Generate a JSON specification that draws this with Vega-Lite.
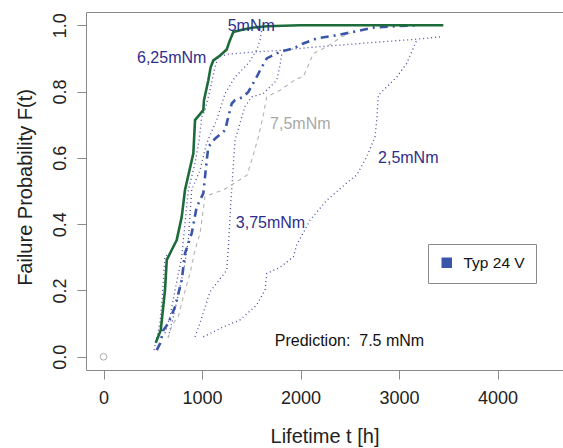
{
  "$schema": "https://vega.github.io/schema/vega-lite/v6.json",
  "width": 477,
  "height": 358,
  "autosize": {"type": "none"},
  "padding": {"left": 86, "top": 12, "right": 0, "bottom": 78},
  "background": "white",
  "config": {
    "view": {"stroke": "#8a8a8a", "strokeWidth": 1},
    "font": "Liberation Sans",
    "axis": {
      "domain": false, "grid": false, "tickColor": "#8a8a8a", "tickSize": 9,
      "labelFont": "Liberation Sans", "labelFontSize": 18, "labelColor": "#222222",
      "titleFont": "Liberation Sans", "titleFontSize": 20, "titleFontWeight": "normal", "titleColor": "#222222"
    },
    "legend": {
      "orient": "none", "legendX": 342, "legendY": 232, "strokeColor": "#8a8a8a", "fillColor": "white",
      "padding": 11, "cornerRadius": 0, "symbolType": "square", "symbolSize": 110,
      "symbolFillColor": "#3a56a8", "symbolStrokeWidth": 0, "labelFont": "Liberation Sans",
      "labelFontSize": 15.5, "labelColor": "#111111", "labelOffset": 9
    }
  },
  "datasets": {
    "curves": [
      {"s": "6,25mNm", "t": 624, "F": 0.071}, {"s": "6,25mNm", "t": 675, "F": 0.121}, {"s": "6,25mNm", "t": 726, "F": 0.201}, {"s": "6,25mNm", "t": 794, "F": 0.301}, {"s": "6,25mNm", "t": 827, "F": 0.403}, {"s": "6,25mNm", "t": 861, "F": 0.503}, {"s": "6,25mNm", "t": 929, "F": 0.584}, {"s": "6,25mNm", "t": 970, "F": 0.653}, {"s": "6,25mNm", "t": 997, "F": 0.723}, {"s": "6,25mNm", "t": 1030, "F": 0.744}, {"s": "6,25mNm", "t": 1081, "F": 0.804}, {"s": "6,25mNm", "t": 1132, "F": 0.874}, {"s": "6,25mNm", "t": 1165, "F": 0.904}, {"s": "6,25mNm", "t": 1267, "F": 0.913}, {"s": "6,25mNm", "t": 1555, "F": 0.920}, {"s": "6,25mNm", "t": 1825, "F": 0.925}, {"s": "6,25mNm", "t": 2096, "F": 0.933}, {"s": "6,25mNm", "t": 2604, "F": 0.945}, {"s": "6,25mNm", "t": 3180, "F": 0.958}, {"s": "6,25mNm", "t": 3416, "F": 0.965},
      {"s": "5mNm", "t": 658, "F": 0.060}, {"s": "5mNm", "t": 709, "F": 0.121}, {"s": "5mNm", "t": 777, "F": 0.211}, {"s": "5mNm", "t": 827, "F": 0.282}, {"s": "5mNm", "t": 861, "F": 0.352}, {"s": "5mNm", "t": 895, "F": 0.503}, {"s": "5mNm", "t": 980, "F": 0.563}, {"s": "5mNm", "t": 1041, "F": 0.638}, {"s": "5mNm", "t": 1081, "F": 0.668}, {"s": "5mNm", "t": 1149, "F": 0.714}, {"s": "5mNm", "t": 1234, "F": 0.794}, {"s": "5mNm", "t": 1335, "F": 0.844}, {"s": "5mNm", "t": 1470, "F": 0.885}, {"s": "5mNm", "t": 1555, "F": 0.925}, {"s": "5mNm", "t": 1589, "F": 0.955}, {"s": "5mNm", "t": 1606, "F": 0.985},
      {"s": "6,25mNm b", "t": 513, "F": 0.020}, {"s": "6,25mNm b", "t": 543, "F": 0.059}, {"s": "6,25mNm b", "t": 574, "F": 0.105}, {"s": "6,25mNm b", "t": 594, "F": 0.171}, {"s": "6,25mNm b", "t": 614, "F": 0.261}, {"s": "6,25mNm b", "t": 624, "F": 0.303}, {"s": "6,25mNm b", "t": 665, "F": 0.309}, {"s": "6,25mNm b", "t": 706, "F": 0.316},
      {"s": "3,75mNm", "t": 929, "F": 0.060}, {"s": "3,75mNm", "t": 980, "F": 0.102}, {"s": "3,75mNm", "t": 1081, "F": 0.196}, {"s": "3,75mNm", "t": 1251, "F": 0.261}, {"s": "3,75mNm", "t": 1267, "F": 0.328}, {"s": "3,75mNm", "t": 1294, "F": 0.472}, {"s": "3,75mNm", "t": 1318, "F": 0.578}, {"s": "3,75mNm", "t": 1335, "F": 0.653}, {"s": "3,75mNm", "t": 1434, "F": 0.754}, {"s": "3,75mNm", "t": 1505, "F": 0.784}, {"s": "3,75mNm", "t": 1622, "F": 0.794}, {"s": "3,75mNm", "t": 1758, "F": 0.834}, {"s": "3,75mNm", "t": 1792, "F": 0.879}, {"s": "3,75mNm", "t": 1812, "F": 0.919},
      {"s": "2,5mNm", "t": 1013, "F": 0.060}, {"s": "2,5mNm", "t": 1216, "F": 0.090}, {"s": "2,5mNm", "t": 1386, "F": 0.111}, {"s": "2,5mNm", "t": 1555, "F": 0.156}, {"s": "2,5mNm", "t": 1640, "F": 0.201}, {"s": "2,5mNm", "t": 1657, "F": 0.251}, {"s": "2,5mNm", "t": 1792, "F": 0.270}, {"s": "2,5mNm", "t": 1927, "F": 0.301}, {"s": "2,5mNm", "t": 1961, "F": 0.337}, {"s": "2,5mNm", "t": 2097, "F": 0.412}, {"s": "2,5mNm", "t": 2266, "F": 0.472}, {"s": "2,5mNm", "t": 2503, "F": 0.533}, {"s": "2,5mNm", "t": 2571, "F": 0.548}, {"s": "2,5mNm", "t": 2672, "F": 0.603}, {"s": "2,5mNm", "t": 2756, "F": 0.663}, {"s": "2,5mNm", "t": 2774, "F": 0.714}, {"s": "2,5mNm", "t": 2790, "F": 0.789}, {"s": "2,5mNm", "t": 2875, "F": 0.814}, {"s": "2,5mNm", "t": 2977, "F": 0.844}, {"s": "2,5mNm", "t": 3078, "F": 0.885}, {"s": "2,5mNm", "t": 3180, "F": 0.955},
      {"s": "7,5mNm", "t": 655, "F": 0.056}, {"s": "7,5mNm", "t": 695, "F": 0.096}, {"s": "7,5mNm", "t": 759, "F": 0.121}, {"s": "7,5mNm", "t": 810, "F": 0.181}, {"s": "7,5mNm", "t": 878, "F": 0.251}, {"s": "7,5mNm", "t": 929, "F": 0.322}, {"s": "7,5mNm", "t": 980, "F": 0.372}, {"s": "7,5mNm", "t": 1030, "F": 0.484}, {"s": "7,5mNm", "t": 1216, "F": 0.503}, {"s": "7,5mNm", "t": 1352, "F": 0.528}, {"s": "7,5mNm", "t": 1457, "F": 0.548}, {"s": "7,5mNm", "t": 1505, "F": 0.593}, {"s": "7,5mNm", "t": 1572, "F": 0.663}, {"s": "7,5mNm", "t": 1622, "F": 0.729}, {"s": "7,5mNm", "t": 1657, "F": 0.784}, {"s": "7,5mNm", "t": 1792, "F": 0.804}, {"s": "7,5mNm", "t": 1961, "F": 0.839}, {"s": "7,5mNm", "t": 2028, "F": 0.844}, {"s": "7,5mNm", "t": 2130, "F": 0.915}, {"s": "7,5mNm", "t": 2266, "F": 0.935}, {"s": "7,5mNm", "t": 2418, "F": 0.965}, {"s": "7,5mNm", "t": 2503, "F": 0.976},
      {"s": "Typ 24 V", "t": 540, "F": 0.020}, {"s": "Typ 24 V", "t": 574, "F": 0.040}, {"s": "Typ 24 V", "t": 607, "F": 0.080}, {"s": "Typ 24 V", "t": 658, "F": 0.101}, {"s": "Typ 24 V", "t": 726, "F": 0.151}, {"s": "Typ 24 V", "t": 794, "F": 0.231}, {"s": "Typ 24 V", "t": 827, "F": 0.312}, {"s": "Typ 24 V", "t": 895, "F": 0.372}, {"s": "Typ 24 V", "t": 946, "F": 0.452}, {"s": "Typ 24 V", "t": 1013, "F": 0.493}, {"s": "Typ 24 V", "t": 1048, "F": 0.593}, {"s": "Typ 24 V", "t": 1064, "F": 0.633}, {"s": "Typ 24 V", "t": 1132, "F": 0.658}, {"s": "Typ 24 V", "t": 1234, "F": 0.683}, {"s": "Typ 24 V", "t": 1267, "F": 0.724}, {"s": "Typ 24 V", "t": 1302, "F": 0.764}, {"s": "Typ 24 V", "t": 1335, "F": 0.774}, {"s": "Typ 24 V", "t": 1419, "F": 0.784}, {"s": "Typ 24 V", "t": 1470, "F": 0.799}, {"s": "Typ 24 V", "t": 1555, "F": 0.844}, {"s": "Typ 24 V", "t": 1589, "F": 0.864}, {"s": "Typ 24 V", "t": 1657, "F": 0.900}, {"s": "Typ 24 V", "t": 1792, "F": 0.920}, {"s": "Typ 24 V", "t": 1927, "F": 0.930}, {"s": "Typ 24 V", "t": 2028, "F": 0.945}, {"s": "Typ 24 V", "t": 2164, "F": 0.960}, {"s": "Typ 24 V", "t": 2367, "F": 0.970}, {"s": "Typ 24 V", "t": 2536, "F": 0.980}, {"s": "Typ 24 V", "t": 2739, "F": 0.993}, {"s": "Typ 24 V", "t": 3010, "F": 0.998}, {"s": "Typ 24 V", "t": 3196, "F": 1.0},
      {"s": "prediction", "t": 530, "F": 0.042}, {"s": "prediction", "t": 581, "F": 0.080}, {"s": "prediction", "t": 624, "F": 0.201}, {"s": "prediction", "t": 642, "F": 0.292}, {"s": "prediction", "t": 692, "F": 0.322}, {"s": "prediction", "t": 743, "F": 0.352}, {"s": "prediction", "t": 794, "F": 0.422}, {"s": "prediction", "t": 827, "F": 0.503}, {"s": "prediction", "t": 912, "F": 0.614}, {"s": "prediction", "t": 929, "F": 0.714}, {"s": "prediction", "t": 1013, "F": 0.744}, {"s": "prediction", "t": 1020, "F": 0.774}, {"s": "prediction", "t": 1064, "F": 0.834}, {"s": "prediction", "t": 1088, "F": 0.874}, {"s": "prediction", "t": 1115, "F": 0.894}, {"s": "prediction", "t": 1183, "F": 0.909}, {"s": "prediction", "t": 1251, "F": 0.927}, {"s": "prediction", "t": 1277, "F": 0.950}, {"s": "prediction", "t": 1318, "F": 0.980}, {"s": "prediction", "t": 1419, "F": 0.987}, {"s": "prediction", "t": 1521, "F": 0.993}, {"s": "prediction", "t": 1657, "F": 0.997}, {"s": "prediction", "t": 1995, "F": 1.0}, {"s": "prediction", "t": 3450, "F": 1.0}
    ],
    "origin": [{"t": 0, "F": 0}],
    "labels": [
      {"label": "5mNm", "kind": "navy", "t": 1500, "F": 0.998},
      {"label": "6,25mNm", "kind": "navy", "t": 692, "F": 0.90},
      {"label": "3,75mNm", "kind": "navy", "t": 1695, "F": 0.403},
      {"label": "2,5mNm", "kind": "navy", "t": 3094, "F": 0.599},
      {"label": "7,5mNm", "kind": "gray", "t": 1998, "F": 0.702},
      {"label": "Prediction:\u00a0 7.5 mNm", "kind": "black", "t": 2497, "F": 0.046}
    ]
  },
  "encoding": {
    "x": {"field": "t", "type": "quantitative",
      "scale": {"domain": [-178, 4665], "nice": false, "zero": false},
      "axis": {"values": [0, 1000, 2000, 3000, 4000], "format": "d", "labelPadding": 10, "labelFlush": false,
        "title": "Lifetime t [h]", "titleX": 238.5, "titleY": 66, "titleBaseline": "middle", "titleAlign": "center"}},
    "y": {"field": "F", "type": "quantitative",
      "scale": {"domain": [-0.04, 1.04], "nice": false, "zero": false},
      "axis": {"values": [0, 0.2, 0.4, 0.6, 0.8, 1.0], "format": ".1f", "labelAngle": 270, "labelAlign": "center",
        "labelBaseline": "alphabetic", "labelPadding": 12, "labelFlush": false,
        "title": "Failure Probability F(t)", "titleX": -61, "titleY": 175, "titleAngle": 270, "titleBaseline": "middle", "titleAlign": "center"}}
  },
  "layer": [
    {"data": {"name": "curves"},
      "transform": [{"filter": {"field": "s", "oneOf": ["6,25mNm", "5mNm", "6,25mNm b", "3,75mNm", "2,5mNm"]}}],
      "mark": {"type": "line", "color": "#4848a8", "strokeWidth": 1.3, "strokeDash": [1, 3]},
      "encoding": {"detail": {"field": "s"}}},
    {"data": {"name": "curves"},
      "transform": [{"filter": {"field": "s", "equal": "7,5mNm"}}],
      "mark": {"type": "line", "color": "#b4b4b4", "strokeWidth": 1.1, "strokeDash": [4, 4]},
      "encoding": {}},
    {"data": {"name": "curves"},
      "transform": [{"filter": {"field": "s", "equal": "Typ 24 V"}}],
      "mark": {"type": "line", "strokeWidth": 2.6, "strokeDash": [8, 5, 2, 5]},
      "encoding": {"color": {"field": "s", "type": "nominal", "scale": {"range": ["#3a56a8"]}, "legend": {"title": null}}}},
    {"data": {"name": "curves"},
      "transform": [{"filter": {"field": "s", "equal": "prediction"}}],
      "mark": {"type": "line", "color": "#1d6b3a", "strokeWidth": 2.6},
      "encoding": {}},
    {"data": {"name": "origin"},
      "mark": {"type": "point", "filled": false, "color": "#8a8a8a", "size": 45, "strokeWidth": 1},
      "encoding": {}},
    {"data": {"name": "labels"},
      "transform": [{"filter": {"field": "kind", "equal": "navy"}}],
      "mark": {"type": "text", "font": "Liberation Sans", "fontSize": 16, "color": "#2e2e8c", "baseline": "middle", "align": "center"},
      "encoding": {"text": {"field": "label"}}},
    {"data": {"name": "labels"},
      "transform": [{"filter": {"field": "kind", "equal": "gray"}}],
      "mark": {"type": "text", "font": "Liberation Sans", "fontSize": 16, "color": "#a8a8a8", "baseline": "middle", "align": "center"},
      "encoding": {"text": {"field": "label"}}},
    {"data": {"name": "labels"},
      "transform": [{"filter": {"field": "kind", "equal": "black"}}],
      "mark": {"type": "text", "font": "Liberation Sans", "fontSize": 16, "color": "#111111", "baseline": "middle", "align": "center"},
      "encoding": {"text": {"field": "label"}}}
  ]
}
